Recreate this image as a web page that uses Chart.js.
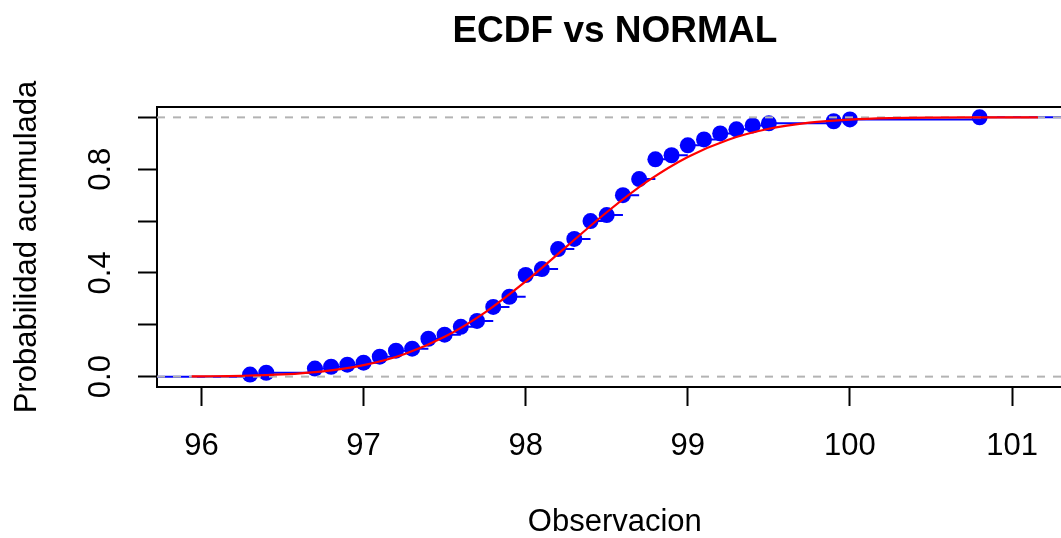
<!DOCTYPE html>
<html>
<head>
<meta charset="utf-8">
<script src="https://cdn.jsdelivr.net/npm/chart.js@4/dist/chart.umd.min.js"></script>
<style>
  html, body { margin: 0; padding: 0; background: #ffffff; overflow: hidden; }
  #wrap { width: 1061px; height: 538px; }
</style>
</head>
<body>
<div id="wrap"><canvas id="c" width="1061" height="538"></canvas></div>
<script>
// Observed temperatures (distinct values) and their empirical cumulative proportions
const temps = [96.3, 96.4, 96.7, 96.8, 96.9, 97.0, 97.1, 97.2, 97.3, 97.4, 97.5, 97.6,
               97.7, 97.8, 97.9, 98.0, 98.1, 98.2, 98.3, 98.4, 98.5, 98.6, 98.7, 98.8,
               98.9, 99.0, 99.1, 99.2, 99.3, 99.4, 99.5, 99.9, 100.0, 100.8];
const ecdfValues = [0.008, 0.015, 0.031, 0.038, 0.046, 0.054, 0.077, 0.100, 0.108, 0.146,
                    0.162, 0.192, 0.215, 0.269, 0.308, 0.392, 0.415, 0.492, 0.531, 0.600,
                    0.623, 0.700, 0.762, 0.838, 0.854, 0.892, 0.915, 0.938, 0.954, 0.969,
                    0.977, 0.985, 0.992, 1.000];

// Fitted normal cumulative curve, sampled along the axis
const normX = [95.94, 96.0, 96.25, 96.5, 96.75, 97.0, 97.25, 97.5, 97.75, 98.0, 98.25,
               98.5, 98.75, 99.0, 99.25, 99.5, 99.75, 100.0, 100.25, 100.5, 100.75, 101.0, 101.16];
const normY = [0.0008, 0.0011, 0.0032, 0.0085, 0.0205, 0.0443, 0.0865, 0.1535, 0.2481, 0.3671,
               0.5006, 0.6340, 0.7528, 0.8472, 0.9139, 0.9560, 0.9797, 0.9915, 0.9968, 0.9989,
               0.9997, 0.9999, 1.0000];

// Axis ranges and ticks (the plot box runs to 101.374; the page shows up to 101.302)
const xRange = [95.726, 101.302];
const xBoxRight = 101.374;
const yRange = [-0.04, 1.04];
const xTicks = [96, 97, 98, 99, 100, 101];
const yTicks = [0.0, 0.2, 0.4, 0.6, 0.8, 1.0];
const yTickLabels = ['0.0', '', '0.4', '', '0.8', ''];
const refLevels = [0, 1];

const mainTitle = 'ECDF vs NORMAL';
const xTitle = 'Observacion';
const yTitle = 'Probabilidad acumulada';

// Horizontal steps of the ECDF (no verticals), separated by gaps
const stepSegs = [];
stepSegs.push({x: 95.0, y: 0}, {x: temps[0], y: 0}, {x: temps[0], y: null});
for (let i = 0; i < temps.length; i++) {
  const xEnd = i < temps.length - 1 ? temps[i + 1] : 102.0;
  stepSegs.push({x: temps[i], y: ecdfValues[i]}, {x: xEnd, y: ecdfValues[i]}, {x: xEnd, y: null});
}

const FONT = "'Liberation Sans', Arial, Helvetica, sans-serif";

const refLine = level => ({
  type: 'line',
  data: [{x: xRange[0], y: level}, {x: 102.0, y: level}],
  borderColor: '#b3b3b3',
  borderWidth: 2,
  borderDash: [8, 8],
  pointRadius: 0,
  showLine: true
});

// keep the plot box exactly where the axes are sized, without edge padding
const noEdgePad = h => s => {
  if (h !== undefined) { s.height = h; }
  s.paddingLeft = 0; s.paddingRight = 0; s.paddingTop = 0; s.paddingBottom = 0;
};

// main title and x-axis title, centred over the whole plot box
const boxTitles = {
  id: 'boxTitles',
  afterDraw(chart) {
    const xs = chart.scales.x;
    const ctx = chart.ctx;
    const cx = (xs.getPixelForValue(xRange[0]) + xs.getPixelForValue(xBoxRight)) / 2;
    ctx.save();
    ctx.fillStyle = '#000000';
    ctx.textAlign = 'center';
    ctx.textBaseline = 'middle';
    ctx.font = 'bold 37px ' + FONT;
    ctx.fillText(mainTitle, cx, 32);
    ctx.font = '31px ' + FONT;
    ctx.fillText(xTitle, cx, 522.5);
    ctx.restore();
  }
};

new Chart(document.getElementById('c'), {
  type: 'scatter',
  data: {
    datasets: [
      {
        type: 'line',
        label: 'Normal',
        data: normX.map((x, i) => ({x: x, y: normY[i]})),
        borderColor: '#ff0000',
        borderWidth: 2.2,
        pointRadius: 0,
        cubicInterpolationMode: 'monotone',
        showLine: true
      },
      refLine(refLevels[0]),
      refLine(refLevels[1]),
      {
        label: 'ECDF',
        data: temps.map((x, i) => ({x: x, y: ecdfValues[i]})),
        backgroundColor: '#0000ff',
        borderWidth: 0,
        pointRadius: 8,
        pointHoverRadius: 8,
        showLine: false
      },
      {
        type: 'line',
        label: 'steps',
        data: stepSegs,
        borderColor: '#0000ff',
        borderWidth: 2,
        pointRadius: 0,
        spanGaps: false,
        showLine: true
      }
    ]
  },
  plugins: [boxTitles],
  options: {
    responsive: false,
    animation: false,
    devicePixelRatio: 1,
    layout: { padding: 0, autoPadding: false },
    plugins: {
      legend: { display: false },
      tooltip: { enabled: false },
      title: { display: false }
    },
    scales: {
      x: {
        type: 'linear',
        position: 'bottom',
        min: xRange[0],
        max: xRange[1],
        afterBuildTicks: s => { s.ticks = xTicks.map(v => ({value: v})); },
        afterFit: noEdgePad(151),
        grid: { drawOnChartArea: false, drawTicks: true, tickLength: 19, tickWidth: 2, tickColor: '#000000' },
        border: { display: true, color: '#000000', width: 2 },
        ticks: {
          autoSkip: false,
          maxRotation: 0,
          padding: 25,
          color: '#000000',
          font: { family: FONT, size: 31, lineHeight: 1 },
          callback: v => String(v)
        },
        title: { display: false }
      },
      x2: {
        type: 'linear',
        position: 'top',
        min: xRange[0],
        max: xRange[1],
        afterFit: noEdgePad(107),
        grid: { display: false, drawTicks: false },
        border: { display: true, color: '#000000', width: 2 },
        ticks: { display: false },
        title: { display: false }
      },
      y: {
        type: 'linear',
        position: 'left',
        min: yRange[0],
        max: yRange[1],
        afterBuildTicks: s => { s.ticks = yTicks.map(v => ({value: v})); },
        afterFit: s => { s.width = 157; s.paddingTop = 0; s.paddingBottom = 0; },
        grid: { drawOnChartArea: false, drawTicks: true, tickLength: 19, tickWidth: 2, tickColor: '#000000' },
        border: { display: true, color: '#000000', width: 2 },
        ticks: {
          autoSkip: false,
          minRotation: 90,
          maxRotation: 90,
          crossAlign: 'center',
          padding: 15,
          color: '#000000',
          font: { family: FONT, size: 31, lineHeight: 1 },
          callback: (v, i) => yTickLabels[i]
        },
        title: {
          display: true,
          text: yTitle,
          color: '#000000',
          font: { family: FONT, size: 31, lineHeight: 1 },
          padding: { top: 12, bottom: 0 }
        }
      }
    }
  }
});
</script>
</body>
</html>
